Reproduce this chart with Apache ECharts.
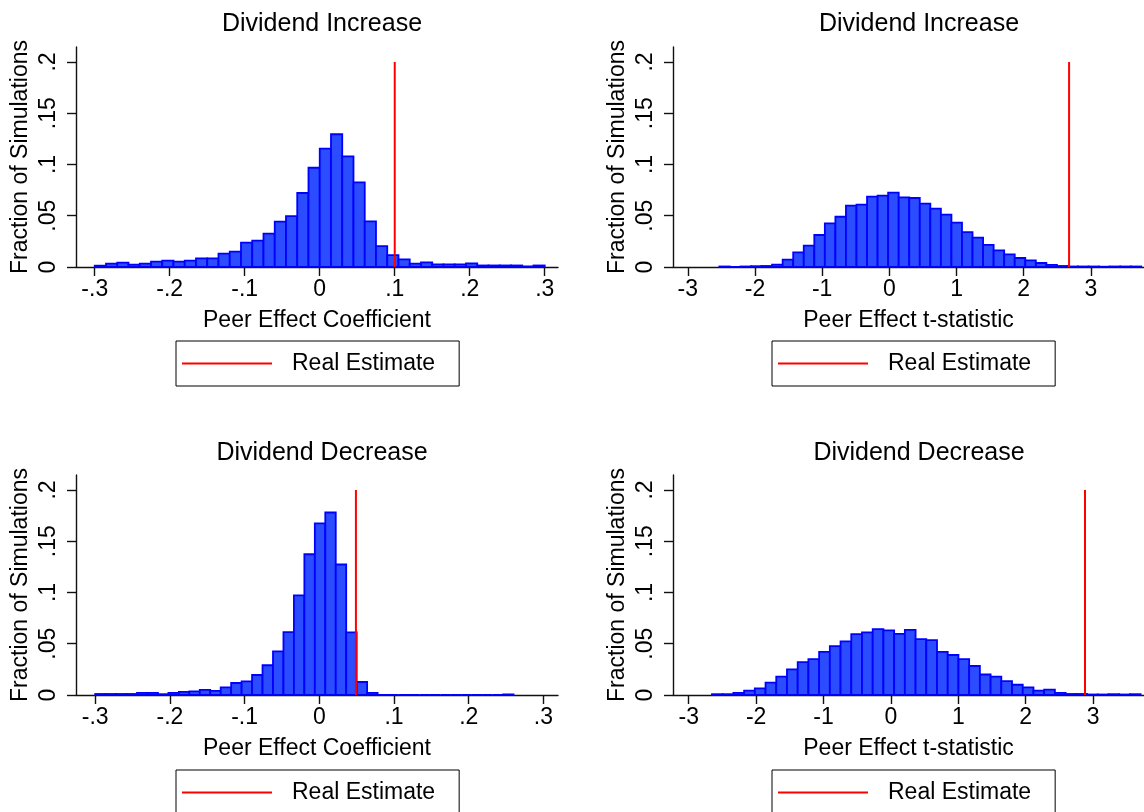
<!DOCTYPE html>
<html><head><meta charset="utf-8">
<script src="https://cdn.jsdelivr.net/npm/echarts@6/dist/echarts.min.js"></script>
<style>html,body{margin:0;padding:0;background:#fff}#c{width:1144px;height:812px}</style>
</head><body><div id="c"></div>
<script>
// ---- text ----
const panelTitles = ['Dividend Increase', 'Dividend Increase', 'Dividend Decrease', 'Dividend Decrease'];
const xAxisNames = ['Peer Effect Coefficient', 'Peer Effect t-statistic', 'Peer Effect Coefficient', 'Peer Effect t-statistic'];
const yAxisName = 'Fraction of Simulations';
const legendName = 'Real Estimate';

// ---- tick labels ----
const coefTicks = [-0.3, -0.2, -0.1, 0, 0.1, 0.2, 0.3];
const tstatTicks = [-3, -2, -1, 0, 1, 2, 3];
const fractionTicks = [0, 0.05, 0.1, 0.15, 0.2];

// ---- histogram bins (first bin start, bin width) ----
const incCoefBins = [-0.3, 0.015];
const incTstatBins = [-2.53, 0.157];
const decCoefBins = [-0.3, 0.014];
const decTstatBins = [-2.655, 0.159];

// ---- fraction of simulations per bin ----
const incCoefFraction = [0.0013, 0.0033, 0.0042, 0.0023, 0.0033, 0.0052, 0.0062, 0.0052, 0.0062, 0.0085,
  0.0085, 0.013, 0.015, 0.0238, 0.0257, 0.0326, 0.0443, 0.0497, 0.0722, 0.0968,
  0.1155, 0.1295, 0.108, 0.0826, 0.0445, 0.0203, 0.0115, 0.0075, 0.0032, 0.0045,
  0.0025, 0.0025, 0.0025, 0.0035, 0.0015, 0.0015, 0.0015, 0.0015, 0.0006, 0.0015];
const incTstatFraction = [0.0005, 0, 0.0005, 0.0008, 0.001, 0.0023, 0.0072, 0.0143, 0.0208, 0.0312,
  0.0426, 0.049, 0.0598, 0.0608, 0.0686, 0.0696, 0.0725, 0.068, 0.0673, 0.0618,
  0.057, 0.051, 0.0433, 0.0341, 0.0286, 0.0215, 0.0163, 0.0124, 0.0088, 0.0065,
  0.0039, 0.002, 0.001, 0.0005, 0.0005, 0.0005, 0.0003, 0.0005, 0.0005, 0.0005];
const decCoefFraction = [0.001, 0.001, 0.001, 0.001, 0.002, 0.002, 0.0008, 0.002, 0.003, 0.0035,
  0.005, 0.004, 0.0075, 0.0117, 0.0133, 0.0195, 0.029, 0.0425, 0.0614, 0.0972,
  0.1373, 0.1675, 0.178, 0.1273, 0.061, 0.0127, 0.002, 0, 0, 0,
  0, 0, 0, 0, 0, 0, 0, 0, 0, 0.0006];
const decTstatFraction = [0.0008, 0.0008, 0.002, 0.0042, 0.0065, 0.012, 0.018, 0.025, 0.032, 0.035,
  0.042, 0.0477, 0.0523, 0.0594, 0.061, 0.0643, 0.063, 0.0597, 0.0636, 0.0545,
  0.0536, 0.042, 0.039, 0.035, 0.0283, 0.020, 0.018, 0.0136, 0.010, 0.0075,
  0.0042, 0.0052, 0.002, 0.001, 0.001, 0.0005, 0.0005, 0.0008, 0.0005, 0.0008];

// ---- real estimates ----
const realEstimates = [0.1, 2.675, 0.049, 2.88];
const realLineTop = 0.2;

// ---- build ----
const FONT = 'Liberation Sans, Arial, sans-serif';
const fractions = [incCoefFraction, incTstatFraction, decCoefFraction, decTstatFraction];
const bins = [incCoefBins, incTstatBins, decCoefBins, decTstatBins];
const xTickSets = [coefTicks, tstatTicks, coefTicks, tstatTicks];
const gridBoxes = [
  {left: 76, top: 47, width: 482, height: 220},
  {left: 673, top: 47, width: 471, height: 220},
  {left: 76, top: 475, width: 482, height: 220},
  {left: 673, top: 475, width: 471, height: 220}
];
const xRanges = [[-0.325, 0.3177], [-3.22, 3.79], [-0.3257, 0.3195], [-3.233, 3.755]];
const yMax = 0.2146;
const titlePos = [[317, 7], [914, 7], [317, 436], [914, 436]];
const legendPos = [[176, 341], [772, 341], [176, 770], [772, 770]];

function stataFmt(v) {
  if (v === 0) return '0';
  const s = String(Math.abs(+v.toFixed(4))).replace(/^0\./, '.');
  return (v < 0 ? '-' : '') + s;
}

const axisLineStyle = {color: '#111', width: 1.4};
const option = {
  backgroundColor: '#fff',
  animation: false,
  title: panelTitles.map((t, i) => ({
    text: t, left: titlePos[i][0], top: titlePos[i][1], textAlign: 'center',
    textStyle: {fontFamily: FONT, fontSize: 25, fontWeight: 'normal', color: '#000'}
  })),
  legend: legendPos.map(p => ({
    left: p[0], top: p[1], orient: 'horizontal',
    data: [{name: legendName, icon: 'rect'}], selectedMode: false,
    itemWidth: 90, itemHeight: 2,
    padding: [11, 24, 11, 6],
    borderColor: '#000', borderWidth: 1,
    textStyle: {fontFamily: FONT, fontSize: 23, color: '#000', padding: [0, 0, 0, 15]}
  })),
  grid: gridBoxes.map(g => Object.assign({containLabel: false}, g)),
  xAxis: gridBoxes.map((g, i) => ({
    type: 'value', gridIndex: i, min: xRanges[i][0], max: xRanges[i][1],
    name: xAxisNames[i], nameLocation: 'middle', nameGap: 42,
    nameTextStyle: {fontFamily: FONT, fontSize: 23, color: '#000'},
    axisLine: {show: true, onZero: false, lineStyle: axisLineStyle},
    axisTick: {show: true, length: 9, lineStyle: axisLineStyle, customValues: xTickSets[i]},
    axisLabel: {fontFamily: FONT, fontSize: 23, color: '#000', margin: 11,
      customValues: xTickSets[i], formatter: stataFmt},
    splitLine: {show: false}
  })),
  yAxis: gridBoxes.map((g, i) => ({
    type: 'value', gridIndex: i, min: 0, max: yMax,
    name: yAxisName, nameLocation: 'middle', nameGap: 44, nameRotate: 90,
    nameTextStyle: {fontFamily: FONT, fontSize: 23, color: '#000'},
    axisLine: {show: true, onZero: false, lineStyle: axisLineStyle},
    axisTick: {show: true, length: 9, lineStyle: axisLineStyle, customValues: fractionTicks},
    axisLabel: {fontFamily: FONT, fontSize: 23, color: '#000', margin: 16, rotate: 90,
      customValues: fractionTicks, formatter: stataFmt},
    splitLine: {show: false}
  })),
  series: []
};

fractions.forEach((vals, i) => {
  const start = bins[i][0], w = bins[i][1];
  option.series.push({
    type: 'custom', xAxisIndex: i, yAxisIndex: i,
    data: vals.map((v, k) => [start + k * w, start + (k + 1) * w, v]),
    encode: {x: [0, 1], y: 2},
    renderItem: function (params, api) {
      const p0 = api.coord([api.value(0), 0]);
      const p1 = api.coord([api.value(1), api.value(2)]);
      return {
        type: 'rect',
        shape: {x: p0[0], y: p1[1], width: p1[0] - p0[0], height: p0[1] - p1[1]},
        style: {fill: '#2b4cff', stroke: '#0000ff', lineWidth: 1.8}
      };
    },
    silent: true
  });
  option.series.push({
    type: 'line', name: legendName, xAxisIndex: i, yAxisIndex: i,
    data: [[realEstimates[i], 0], [realEstimates[i], realLineTop]],
    symbol: 'none', lineStyle: {color: '#ff0000', width: 2}, itemStyle: {color: '#ff0000'},
    silent: true, z: 5
  });
});

const chart = echarts.init(document.getElementById('c'), null, {renderer: 'canvas'});
chart.setOption(option);
</script>
</body></html>
